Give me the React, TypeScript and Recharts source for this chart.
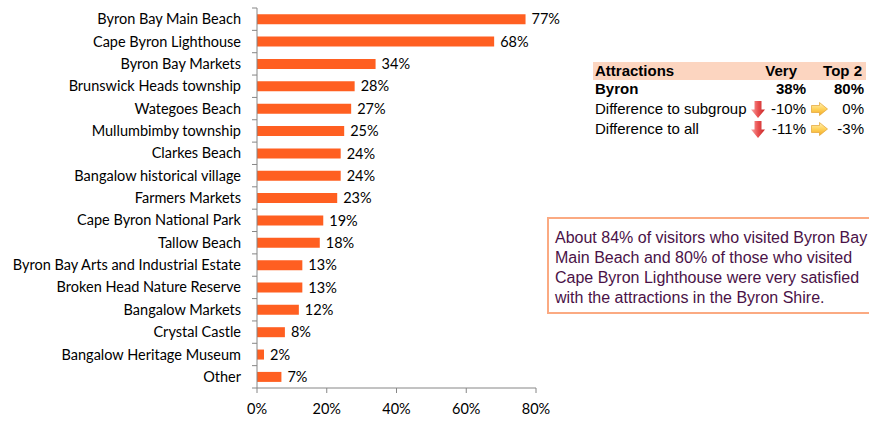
import React from "react";
import { BarChart, Bar, XAxis, YAxis, LabelList } from "recharts";

const attractions = [
  "Byron Bay Main Beach",
  "Cape Byron Lighthouse",
  "Byron Bay Markets",
  "Brunswick Heads township",
  "Wategoes Beach",
  "Mullumbimby township",
  "Clarkes Beach",
  "Bangalow historical village",
  "Farmers Markets",
  "Cape Byron National Park",
  "Tallow Beach",
  "Byron Bay Arts and Industrial Estate",
  "Broken Head Nature Reserve",
  "Bangalow Markets",
  "Crystal Castle",
  "Bangalow Heritage Museum",
  "Other",
];
const visited = [0.77, 0.68, 0.34, 0.28, 0.27, 0.25, 0.24, 0.24, 0.23, 0.19, 0.18, 0.13, 0.13, 0.12, 0.08, 0.02, 0.07];
const xTicks = [0, 0.2, 0.4, 0.6, 0.8];

const tableHead = ["Attractions", "Very", "Top 2"];
const tableRows = [
  { label: "Byron", very: "38%", top2: "80%", bold: true, veryArrow: "", topArrow: "" },
  { label: "Difference to subgroup", very: "-10%", top2: "0%", bold: false, veryArrow: "down", topArrow: "right" },
  { label: "Difference to all", very: "-11%", top2: "-3%", bold: false, veryArrow: "down", topArrow: "right" },
];
const noteLines = [
  "About 84% of visitors who visited Byron Bay",
  "Main Beach and 80% of those who visited",
  "Cape Byron Lighthouse were very satisfied",
  "with the attractions in the Byron Shire.",
];

const data = attractions.map((name, i) => ({ name, value: visited[i] }));
const pct = (v: number) => `${Math.round(v * 100)}%`;

const CHART_TOP = 8;
const CHART_BOTTOM = 388;
const AXIS_X = 257;
const band = (CHART_BOTTOM - CHART_TOP) / attractions.length;

function CatTick(props: any) {
  const { x, y, payload } = props;
  return (
    <g>
      <text x={x} y={y} dy="0.35em" textAnchor="end" fontSize={14.5} fill="#000" fontFamily="Lato">
        {payload.value}
      </text>
      <line x1={AXIS_X - 5} x2={AXIS_X} y1={y - band / 2} y2={y - band / 2} stroke="#868686" />
      {payload.index === attractions.length - 1 && (
        <line x1={AXIS_X - 5} x2={AXIS_X} y1={y + band / 2} y2={y + band / 2} stroke="#868686" />
      )}
    </g>
  );
}

function DownArrow() {
  return (
    <svg width="14" height="17" viewBox="0 0 14 17" style={{ position: "absolute" }}>
      <defs>
        <linearGradient id="redg" x1="0" x2="1" y1="0" y2="0">
          <stop offset="0" stopColor="#f8a8a8" />
          <stop offset="0.5" stopColor="#ea5050" />
          <stop offset="1" stopColor="#c42828" />
        </linearGradient>
      </defs>
      <path d="M3.5 0 H10.5 V8.5 H14 L7 17 L0 8.5 H3.5 Z" fill="url(#redg)" />
    </svg>
  );
}

function RightArrow() {
  return (
    <svg width="17" height="14" viewBox="0 0 17 14" style={{ position: "absolute" }}>
      <defs>
        <linearGradient id="yelg" x1="0" x2="0" y1="0" y2="1">
          <stop offset="0" stopColor="#fff2b8" />
          <stop offset="0.5" stopColor="#ffd25a" />
          <stop offset="1" stopColor="#f2aa28" />
        </linearGradient>
      </defs>
      <path d="M0.5 3.5 H8.5 V0.5 L16.5 7 L8.5 13.5 V10.5 H0.5 Z" fill="url(#yelg)" stroke="#e2a232" strokeWidth="0.7" />
    </svg>
  );
}

const cell = (left: number, top: number, width: number, align: "left" | "right", bold: boolean): React.CSSProperties => ({
  position: "absolute",
  left,
  top,
  width,
  textAlign: align,
  fontWeight: bold ? "bold" : "normal",
  fontSize: 15,
  lineHeight: "18px",
  whiteSpace: "nowrap",
});

export default function App() {
  return (
    <div style={{ position: "absolute", left: 0, top: 0, width: 869, height: 423, background: "#fff", overflow: "hidden", fontFamily: "'Liberation Sans', Arial, sans-serif" }}>
      <BarChart
        width={869}
        height={423}
        data={data}
        layout="vertical"
        margin={{ top: CHART_TOP, right: 869 - 536, bottom: 0, left: 0 }}
        barCategoryGap="28%"
      >
        <XAxis
          type="number"
          domain={[0, 0.8]}
          ticks={xTicks}
          tickFormatter={pct}
          height={423 - CHART_BOTTOM}
          stroke="#868686"
          tickSize={5}
          tickMargin={11}
          tick={{ fontSize: 14.5, fill: "#000", fontFamily: "Lato" }}
          interval={0}
        />
        <YAxis
          type="category"
          dataKey="name"
          width={AXIS_X}
          stroke="#868686"
          tickLine={false}
          tickMargin={10}
          tick={<CatTick />}
          interval={0}
        />
        <Bar dataKey="value" fill="#FF5F21" isAnimationActive={false}>
          <LabelList dataKey="value" position="right" offset={6} formatter={pct} fontSize={14.5} fill="#000" fontFamily="Lato" />
        </Bar>
      </BarChart>

      <div style={{ position: "absolute", left: 593, top: 62, width: 273, height: 18, background: "#FCD5C0" }} />
      <div style={cell(595, 62, 150, "left", true)}>{tableHead[0]}</div>
      <div style={cell(747, 62, 50, "right", true)}>{tableHead[1]}</div>
      <div style={cell(810, 62, 52, "right", true)}>{tableHead[2]}</div>
      {tableRows.map((r, i) => {
        const top = 80 + i * 20;
        return (
          <React.Fragment key={r.label}>
            <div style={cell(595, top, 150, "left", r.bold)}>{r.label}</div>
            <div style={cell(765, top, 41, "right", r.bold)}>{r.very}</div>
            <div style={cell(820, top, 44, "right", r.bold)}>{r.top2}</div>
            {r.veryArrow === "down" && (
              <div style={{ position: "absolute", left: 751, top: top + 1 }}>
                <DownArrow />
              </div>
            )}
            {r.topArrow === "right" && (
              <div style={{ position: "absolute", left: 811, top: top + 2 }}>
                <RightArrow />
              </div>
            )}
          </React.Fragment>
        );
      })}

      <div
        style={{
          position: "absolute",
          left: 547,
          top: 217,
          width: 340,
          height: 97,
          border: "2px solid #FBAA82",
          boxSizing: "border-box",
        }}
      />
      <div
        style={{
          position: "absolute",
          left: 555,
          top: 228,
          fontSize: 16,
          lineHeight: "20px",
          color: "#4A1247",
          whiteSpace: "nowrap",
        }}
      >
        {noteLines.map((l) => (
          <div key={l}>{l}</div>
        ))}
      </div>
    </div>
  );
}
